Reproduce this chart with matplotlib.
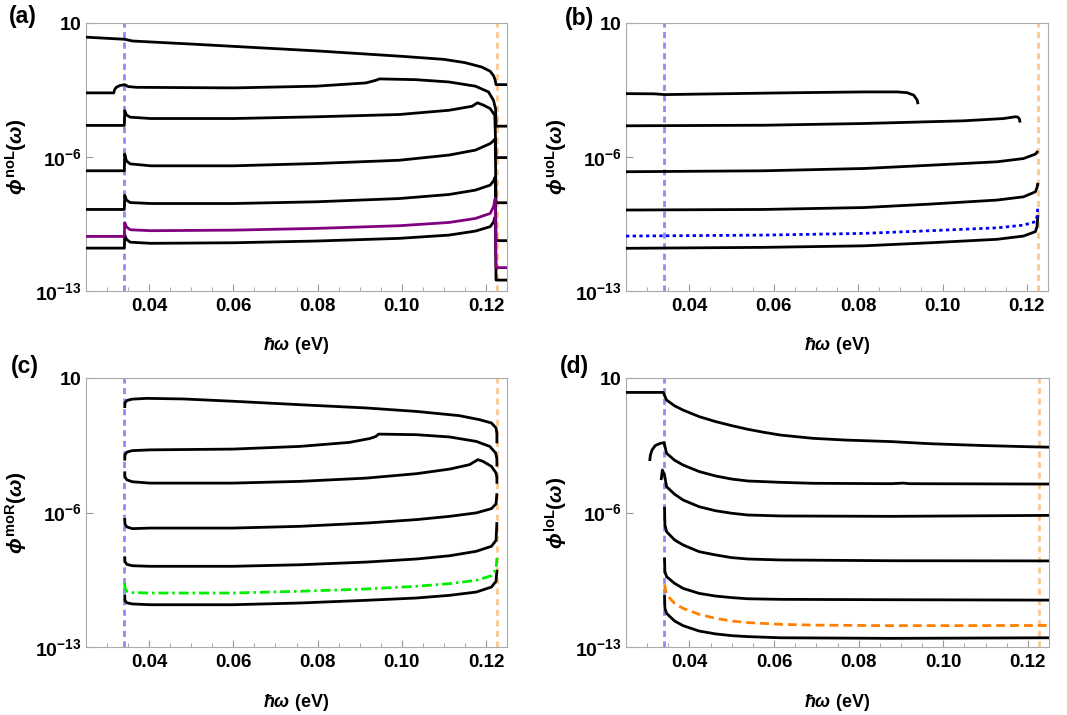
import numpy as np
import matplotlib
matplotlib.use('Agg')
import matplotlib.pyplot as plt
from matplotlib.ticker import MultipleLocator, NullLocator

plt.rcParams['font.family'] = ['Liberation Sans', 'DejaVu Sans']
plt.rcParams['font.weight'] = 'bold'
plt.rcParams['mathtext.fontset'] = 'custom'
plt.rcParams['mathtext.rm'] = 'Liberation Sans:bold'
plt.rcParams['mathtext.it'] = 'Liberation Sans:bold:italic'
plt.rcParams['mathtext.bf'] = 'Liberation Sans:bold'
plt.rcParams['mathtext.fallback'] = 'stixsans'

# threshold energies (eV)
x_blue = 0.0341
x_orange = 0.1226

# ---- panel (a): log10 of phi^noL ----
a1_x = [0.025, 0.0342, 0.036, 0.050, 0.060, 0.080, 0.100, 0.110, 0.115, 0.119, 0.121, 0.1218, 0.1222, 0.1224, 0.125]
a1_y = [0.26, 0.15, 0.06, -0.10, -0.22, -0.46, -0.74, -0.90, -1.07, -1.30, -1.52, -1.75, -1.99, -2.22, -2.22]
a2_x = [0.025, 0.0316, 0.0318, 0.0322, 0.0330, 0.0342, 0.0350, 0.0370, 0.0601, 0.0797, 0.0915, 0.0939, 0.0947,
        0.1033, 0.1112, 0.1175, 0.1206, 0.1218, 0.1223, 0.1224, 0.125]
a2_y = [-2.65, -2.65, -2.48, -2.36, -2.27, -2.22, -2.32, -2.36, -2.39, -2.30, -2.13, -1.99, -1.92,
        -1.96, -2.08, -2.30, -2.60, -3.04, -3.50, -4.39, -4.39]
a3_x = [0.025, 0.0341, 0.0342, 0.0346, 0.0355, 0.0404, 0.0601, 0.0797, 0.0994, 0.1112, 0.1167, 0.1180,
        0.1195, 0.1210, 0.1221, 0.1224, 0.125]
a3_y = [-4.35, -4.35, -3.58, -3.80, -3.92, -3.99, -3.99, -3.90, -3.78, -3.56, -3.35, -3.17,
        -3.30, -3.47, -3.82, -6.03, -6.03]
a_x = [0.025, 0.0341, 0.0342, 0.0346, 0.0355, 0.0404, 0.0601, 0.0797, 0.0994, 0.1112, 0.1175, 0.1210,
       0.1218, 0.1222, 0.1224, 0.125]
a4_y = [-6.72, -6.72, -5.85, -6.20, -6.36, -6.46, -6.46, -6.34, -6.17, -5.90, -5.64, -5.30, -5.15, -5.04, -8.39, -8.39]
a5_y = [-8.74, -8.74, -8.00, -8.25, -8.38, -8.43, -8.43, -8.34, -8.17, -7.96, -7.73, -7.47, -7.25, -7.04, -10.37, -10.37]
a6_y = [-10.15, -10.15, -9.43, -9.65, -9.80, -9.85, -9.82, -9.73, -9.59, -9.42, -9.21, -8.95, -8.60, -8.17, -11.78, -11.78]
a7_y = [-10.76, -10.76, -10.08, -10.30, -10.45, -10.51, -10.48, -10.39, -10.25, -10.08, -9.87, -9.64, -9.40, -9.12, -12.43, -12.43]

# ---- panel (b): log10 of phi^uoL ----
b1_x = [0.025, 0.0317, 0.0341, 0.0499, 0.0656, 0.0814, 0.0893, 0.0916, 0.0932, 0.0940, 0.0942]
b1_y = [-2.69, -2.70, -2.74, -2.69, -2.64, -2.60, -2.60, -2.64, -2.77, -3.03, -3.24]
b2_x = [0.025, 0.0577, 0.0814, 0.1050, 0.1145, 0.1172, 0.1178, 0.1182, 0.1184]
b2_y = [-4.37, -4.34, -4.25, -4.11, -3.99, -3.90, -3.91, -4.00, -4.20]
b_x = [0.025, 0.0577, 0.0814, 0.0971, 0.1129, 0.1192, 0.1220, 0.1224, 0.1226]
b3_y = [-6.77, -6.72, -6.60, -6.43, -6.25, -6.08, -5.85, -5.75, -5.68]
b4_y = [-8.77, -8.74, -8.64, -8.46, -8.25, -8.08, -7.82, -7.60, -7.35]
b5_y = [-10.13, -10.08, -9.99, -9.85, -9.70, -9.56, -9.38, -9.10, -8.60]
b6_y = [-10.77, -10.72, -10.64, -10.48, -10.30, -10.13, -9.90, -9.64, -9.04]

# ---- panel (c): log10 of phi^moR ----
c1_x = [0.0342, 0.03425, 0.0347, 0.0360, 0.0394, 0.0481, 0.0599, 0.0758, 0.0916, 0.1035, 0.1137, 0.1185,
        0.1213, 0.1224, 0.1226, 0.1226]
c1_y = [-0.56, -0.30, -0.17, -0.10, -0.06, -0.09, -0.21, -0.39, -0.56, -0.74, -0.96, -1.17,
        -1.34, -1.60, -1.90, -2.40]
c2_x = [0.0342, 0.03425, 0.0347, 0.0360, 0.0402, 0.0599, 0.0758, 0.0876, 0.0924, 0.0938, 0.0945, 0.1035,
        0.1114, 0.1177, 0.1209, 0.1223, 0.1226, 0.1226]
c2_y = [-3.30, -3.00, -2.86, -2.78, -2.74, -2.70, -2.56, -2.35, -2.15, -2.05, -1.92, -1.95,
        -2.07, -2.30, -2.56, -2.90, -3.20, -3.60]
c3_x = [0.0342, 0.03425, 0.0347, 0.0360, 0.0402, 0.0599, 0.0758, 0.0916, 0.1035, 0.1114, 0.1161, 0.1177,
        0.1181, 0.1193, 0.1213, 0.1224, 0.1226, 0.1226]
c3_y = [-3.86, -4.15, -4.30, -4.40, -4.47, -4.47, -4.38, -4.21, -3.98, -3.74, -3.51, -3.30,
        -3.25, -3.34, -3.60, -3.94, -4.20, -4.50]
c_x = [0.0342, 0.03425, 0.0347, 0.0360, 0.0402, 0.0599, 0.0758, 0.0916, 0.1035, 0.1114, 0.1177, 0.1213,
       0.1224, 0.1226]
c4_y = [-6.29, -6.60, -6.75, -6.84, -6.81, -6.81, -6.72, -6.55, -6.37, -6.20, -6.02, -5.80, -5.55, -5.00]
c5_y = [-8.28, -8.55, -8.70, -8.77, -8.80, -8.80, -8.72, -8.58, -8.42, -8.25, -8.02, -7.76, -7.45, -6.50]
c6_y = [-9.67, -9.95, -10.10, -10.17, -10.19, -10.19, -10.10, -9.98, -9.84, -9.70, -9.53, -9.29, -8.98, -8.37]
c7_y = [-10.28, -10.58, -10.70, -10.76, -10.80, -10.80, -10.71, -10.57, -10.45, -10.31, -10.14, -9.88, -9.58, -8.98]

# ---- panel (d): log10 of phi^loL ----
d1_x = [0.025, 0.0338, 0.0341, 0.0346, 0.0365, 0.0385, 0.0423, 0.0462, 0.0500, 0.0538, 0.0577, 0.0615,
        0.0692, 0.0769, 0.0877, 0.0969, 0.1087, 0.1206, 0.125]
d1_y = [0.25, 0.25, 0.10, -0.15, -0.45, -0.67, -1.01, -1.27, -1.48, -1.67, -1.83, -1.97,
        -2.14, -2.23, -2.31, -2.42, -2.51, -2.58, -2.60]
d2_x = [0.0306, 0.03077, 0.03115, 0.0319, 0.0331, 0.0340, 0.0346, 0.0365, 0.0385, 0.0423, 0.0462, 0.0500,
        0.0538, 0.0615, 0.0692, 0.0877, 0.0906, 0.0920, 0.125]
d2_y = [-3.32, -3.01, -2.75, -2.52, -2.40, -2.37, -2.92, -3.28, -3.53, -3.87, -4.10, -4.26,
        -4.36, -4.43, -4.48, -4.50, -4.47, -4.50, -4.52]
d3_x = [0.0333, 0.0336, 0.0341, 0.0346, 0.0365, 0.0385, 0.0423, 0.0462, 0.0500, 0.0538, 0.0615, 0.0877, 0.125]
d3_y = [-4.31, -3.79, -4.05, -4.66, -5.05, -5.35, -5.70, -5.91, -6.04, -6.13, -6.18, -6.20, -6.15]
d_x = [0.0341, 0.0342, 0.0346, 0.0365, 0.0385, 0.0423, 0.0462, 0.0500, 0.0538, 0.0615, 0.0877, 0.125]
d4_y = [-5.70, -6.65, -7.00, -7.43, -7.69, -8.04, -8.21, -8.35, -8.42, -8.47, -8.51, -8.52]
d5_y = [-8.35, -9.08, -9.34, -9.69, -9.95, -10.21, -10.35, -10.43, -10.49, -10.52, -10.54, -10.56]
d7_y = [-10.29, -10.99, -11.25, -11.65, -11.89, -12.17, -12.32, -12.41, -12.46, -12.52, -12.55, -12.52]
d6_x = [0.0341, 0.0346, 0.0365, 0.0385, 0.0423, 0.0462, 0.0500, 0.0538, 0.0615, 0.0692, 0.0877, 0.125]
d6_y = [-9.74, -10.29, -10.73, -10.99, -11.30, -11.51, -11.65, -11.73, -11.82, -11.86, -11.89, -11.88]

W, H = 1067, 715
fig = plt.figure(figsize=(W / 100, H / 100), dpi=100)


def make_axes(l, t, r, b):
    return fig.add_axes([l / W, 1 - b / H, (r - l) / W, (b - t) / H])


def style(ax, ylab):
    ax.set_yscale('log')
    ax.set_xlim(0.025, 0.125)
    ax.set_ylim(1e-13, 10)
    ax.set_yticks([10, 1e-6, 1e-13])
    ax.set_yticklabels([r'$10$', r'$10^{-6}$', r'$10^{-13}$'])
    ax.yaxis.set_minor_locator(NullLocator())
    ax.set_xticks([0.04, 0.06, 0.08, 0.10, 0.12])
    ax.set_xticklabels(['0.04', '0.06', '0.08', '0.10', '0.12'])
    ax.xaxis.set_minor_locator(MultipleLocator(0.005))
    ax.tick_params(which='both', direction='in', colors='#999999', labelcolor='black',
                   top=False, right=False)
    ax.tick_params(axis='x', which='major', length=5, width=0.8, pad=5, labelsize=13.5)
    ax.tick_params(axis='x', which='minor', length=3, width=0.6)
    ax.tick_params(axis='y', which='major', length=5, width=0.8, pad=3, labelsize=14)
    for s in ax.spines.values():
        s.set_color('#aaaaaa')
        s.set_linewidth(0.8)
    ax.axvline(x_blue, color='#8c8cf8', lw=2.0, ls=(0, (2.2, 1.6)), zorder=1)
    ax.axvline(x_orange, color='#fcc890', lw=2.0, ls=(0, (2.2, 1.6)), zorder=1)
    ax.set_xlabel(r'$ħω$ (eV)', fontsize=13, fontweight='bold')
    ax.xaxis.set_label_coords(0.5, -0.205)
    ax.xaxis.label.set_va('center')
    ax.set_ylabel(ylab, fontsize=15, fontweight='bold')
    ax.yaxis.set_label_coords(-0.165, 0.5)
    ax.yaxis.label.set_va('center')


def curve(ax, x, y, color='black', ls='-', lw=2.0):
    ax.plot(x, 10 ** np.array(y), color=color, ls=ls, lw=lw, zorder=3,
            solid_capstyle='butt', solid_joinstyle='round')


ax_a = make_axes(86, 23, 507, 291)
ax_b = make_axes(626, 23, 1048, 291)
ax_c = make_axes(86, 378, 507, 647)
ax_d = make_axes(626, 378, 1049, 647)

style(ax_a, r'$ϕ^{\mathrm{noL}}(ω)$')
style(ax_b, r'$ϕ^{\mathrm{uoL}}(ω)$')
style(ax_c, r'$ϕ^{\mathrm{moR}}(ω)$')
style(ax_d, r'$ϕ^{\mathrm{loL}}(ω)$')

curve(ax_a, a1_x, a1_y)
curve(ax_a, a2_x, a2_y)
curve(ax_a, a3_x, a3_y)
curve(ax_a, a_x, a4_y)
curve(ax_a, a_x, a5_y)
curve(ax_a, a_x, a7_y)
curve(ax_a, a_x, a6_y, color='#800080')

curve(ax_b, b1_x, b1_y)
curve(ax_b, b2_x, b2_y)
curve(ax_b, b_x, b3_y)
curve(ax_b, b_x, b4_y)
curve(ax_b, b_x, b6_y)
curve(ax_b, b_x, b5_y, color='#0000ff', ls=(0, (1.2, 1.2)))

curve(ax_c, c1_x, c1_y)
curve(ax_c, c2_x, c2_y)
curve(ax_c, c3_x, c3_y)
curve(ax_c, c_x, c4_y)
curve(ax_c, c_x, c5_y)
curve(ax_c, c_x, c7_y)
curve(ax_c, c_x, c6_y, color='#00ee00', ls=(0, (3.6, 1.4, 0.9, 1.4)))

curve(ax_d, d1_x, d1_y)
curve(ax_d, d2_x, d2_y)
curve(ax_d, d3_x, d3_y)
curve(ax_d, d_x, d4_y)
curve(ax_d, d_x, d5_y)
curve(ax_d, d_x, d7_y)
curve(ax_d, d6_x, d6_y, color='#ff8000', ls=(0, (3.2, 1.8)))

for lab, px, py in [('(a)', 23, 16), ('(b)', 579, 18), ('(c)', 25, 367), ('(d)', 574, 367)]:
    fig.text(px / W, 1 - py / H, lab, fontsize=16.5, fontweight='bold', ha='center', va='center')

fig.savefig('out.png', dpi=100)
